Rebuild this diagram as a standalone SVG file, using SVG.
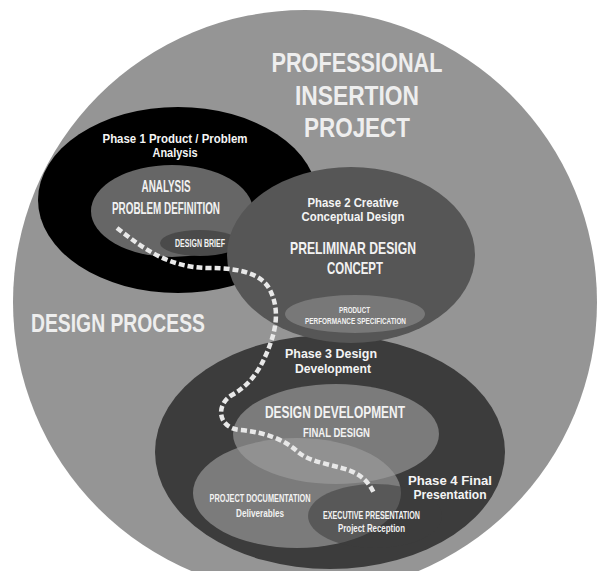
<svg xmlns="http://www.w3.org/2000/svg" width="598" height="571" viewBox="0 0 598 571">
<style>
.big{font-family:"Liberation Sans",Arial,sans-serif;font-weight:bold;fill:#eeeeee;text-anchor:middle}
.cap{font-family:"Liberation Sans",Arial,sans-serif;font-weight:bold;fill:#f2f2f2;text-anchor:middle}
.ph{font-family:"Liberation Sans",Arial,sans-serif;font-weight:bold;fill:#f4f4f4;text-anchor:middle}
</style>
<rect width="598" height="571" fill="#ffffff"/>
<g id="design-process">
<circle cx="305" cy="302" r="292" fill="#959595"/>
<text class="big" x="118" y="332" font-size="26" textLength="174" lengthAdjust="spacingAndGlyphs">DESIGN PROCESS</text>
<text class="big" x="357" y="72" font-size="27" textLength="171" lengthAdjust="spacingAndGlyphs">PROFESSIONAL</text>
<text class="big" x="357" y="105" font-size="27" textLength="124" lengthAdjust="spacingAndGlyphs">INSERTION</text>
<text class="big" x="357" y="137" font-size="27" textLength="106" lengthAdjust="spacingAndGlyphs">PROJECT</text>
</g>
<g id="phase1">
<ellipse cx="178" cy="200" rx="140" ry="93" fill="#000000"/>
<text class="ph" x="175" y="143" font-size="12" textLength="145" lengthAdjust="spacingAndGlyphs">Phase 1 Product / Problem</text>
<text class="ph" x="175" y="157" font-size="12" textLength="45" lengthAdjust="spacingAndGlyphs">Analysis</text>
</g>
<g id="analysis">
<ellipse cx="172" cy="211" rx="81" ry="46" fill="#666666"/>
<text class="cap" x="166" y="192" font-size="16" textLength="49" lengthAdjust="spacingAndGlyphs">ANALYSIS</text>
<text class="cap" x="166" y="214" font-size="16" textLength="108" lengthAdjust="spacingAndGlyphs">PROBLEM DEFINITION</text>
</g>
<g id="design-brief">
<ellipse cx="200" cy="243" rx="40" ry="13" fill="#4a4a4a"/>
<text class="cap" x="200" y="247" font-size="11" textLength="50" lengthAdjust="spacingAndGlyphs">DESIGN BRIEF</text>
</g>
<g id="phase3">
<ellipse cx="330" cy="452" rx="175" ry="117" fill="#3c3c3c"/>
<text class="ph" x="331" y="358" font-size="12" textLength="92" lengthAdjust="spacingAndGlyphs">Phase 3 Design</text>
<text class="ph" x="333" y="373" font-size="12" textLength="76" lengthAdjust="spacingAndGlyphs">Development</text>
</g>
<g id="phase2">
<ellipse cx="351" cy="255" rx="124" ry="88" fill="#565656"/>
<text class="ph" x="353" y="207" font-size="12" textLength="91" lengthAdjust="spacingAndGlyphs">Phase 2 Creative</text>
<text class="ph" x="353" y="221" font-size="12" textLength="103" lengthAdjust="spacingAndGlyphs">Conceptual Design</text>
<text class="cap" x="353" y="254" font-size="17" textLength="126" lengthAdjust="spacingAndGlyphs">PRELIMINAR DESIGN</text>
<text class="cap" x="355" y="274" font-size="17" textLength="56" lengthAdjust="spacingAndGlyphs">CONCEPT</text>
</g>
<g id="product-spec">
<ellipse cx="355" cy="314" rx="70" ry="19" fill="#787878"/>
<text class="cap" x="354.5" y="313" font-size="9" textLength="31" lengthAdjust="spacingAndGlyphs">PRODUCT</text>
<text class="cap" x="355.5" y="324" font-size="9" textLength="101" lengthAdjust="spacingAndGlyphs">PERFORMANCE SPECIFICATION</text>
</g>
<g id="design-development">
<ellipse cx="336" cy="434" rx="103" ry="50" fill="#7b7b7b"/>
<text class="cap" x="335" y="418" font-size="16" textLength="140" lengthAdjust="spacingAndGlyphs">DESIGN DEVELOPMENT</text>
<text class="cap" x="336.5" y="437" font-size="13" textLength="67" lengthAdjust="spacingAndGlyphs">FINAL DESIGN</text>
</g>
<g id="project-documentation">
<ellipse cx="297" cy="493" rx="104" ry="55" fill="#9c9c9c" fill-opacity="0.65"/>
<text class="cap" x="260" y="502" font-size="11" textLength="101" lengthAdjust="spacingAndGlyphs">PROJECT DOCUMENTATION</text>
<text class="cap" x="260" y="517" font-size="11" textLength="48" lengthAdjust="spacingAndGlyphs">Deliverables</text>
</g>
<g id="executive-presentation">
<ellipse cx="375" cy="516" rx="67" ry="32" fill="#3c3c3c" fill-opacity="0.55"/>
<text class="cap" x="371.5" y="519" font-size="10" textLength="97" lengthAdjust="spacingAndGlyphs">EXECUTIVE PRESENTATION</text>
<text class="cap" x="371.5" y="532" font-size="10" textLength="67" lengthAdjust="spacingAndGlyphs">Project Reception</text>
</g>
<g id="phase4">
<text class="ph" x="450" y="485" font-size="12" textLength="84" lengthAdjust="spacingAndGlyphs">Phase 4  Final</text>
<text class="ph" x="450" y="499" font-size="12" textLength="73" lengthAdjust="spacingAndGlyphs">Presentation</text>
</g>
<g id="connectors">
<path d="M117,228 C145,250 170,268 210,268 C240,268 262,274 270,290 C280,310 276,330 268,350 C260,370 250,385 232,395 C215,405 218,428 240,430 C265,432 285,440 298,452 C312,464 340,465 355,473 C365,478 370,485 374,493" fill="none" stroke="#e8e8e8" stroke-width="4.5" stroke-dasharray="6,3"/>
</g>
</svg>
